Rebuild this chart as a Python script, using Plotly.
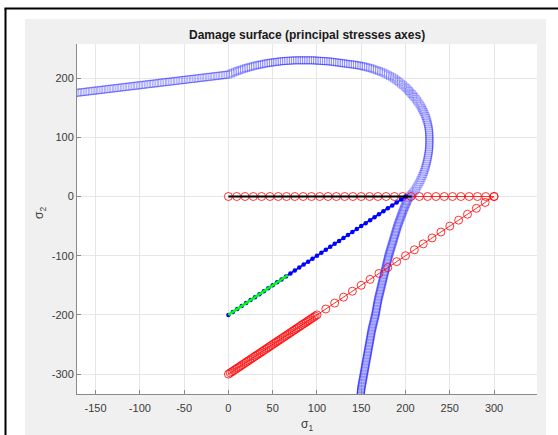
import plotly.graph_objects as go

# ---------------- data ----------------
# Damage surface (blue open squares): (sigma1, sigma2) pairs, three stretches of one curve
surf_left = [(-180, 173.6), (-177, 174.1), (-174, 174.6), (-171, 175.2), (-168, 175.7), (-165, 176.3),
             (-162, 176.8), (-159, 177.3), (-156, 177.9), (-153, 178.4), (-150, 179.0), (-147, 179.5),
             (-144, 180.0), (-141, 180.6), (-138, 181.1), (-135, 181.7), (-132, 182.2), (-129, 182.7),
             (-126, 183.3), (-123, 183.8), (-120, 184.4), (-117, 184.9), (-114, 185.4), (-111, 186.0),
             (-108, 186.5), (-105, 187.1), (-102, 187.6), (-99, 188.1), (-96, 188.7), (-93, 189.2),
             (-90, 189.8), (-87, 190.3), (-84, 190.8), (-81, 191.4), (-78, 191.9), (-75, 192.5),
             (-72, 193.0), (-69, 193.5), (-66, 194.1), (-63, 194.6), (-60, 195.2), (-57, 195.7),
             (-54, 196.2), (-51, 196.8), (-48, 197.3), (-45, 197.9), (-42, 198.4), (-39, 198.9),
             (-36, 199.5), (-33, 200.0), (-30, 200.6), (-27, 201.1), (-24, 201.6), (-21, 202.2),
             (-18, 202.7), (-15, 203.3), (-12, 203.8), (-9, 204.3), (-6, 204.9), (-3, 205.4)]
surf_arc = [(0, 206), (2.5, 207.5), (5, 209), (7.5, 210.5), (10, 212), (12.5, 213.3), (15, 214.5),
            (17.5, 215.8), (20, 217), (22.5, 218), (25, 219), (27.5, 220), (30, 221), (32.5, 221.8),
            (35, 222.5), (37.5, 223.3), (40, 224), (42.5, 224.8), (45, 225.5), (47.5, 226), (50, 226.5),
            (52.5, 227), (55, 227.5), (57.5, 228), (60, 228.5), (62.5, 228.8), (65, 229), (67.5, 229.3),
            (70, 229.5), (72.5, 229.8), (75, 230), (77.5, 230), (80, 230), (82.5, 230), (85, 230),
            (87.5, 230), (90, 230), (92.5, 230), (95, 230), (97.5, 229.8), (100, 229.5), (102.5, 229.3),
            (105, 229), (107.5, 228.8), (110, 228.5), (112.5, 228.3), (115, 228), (117.5, 227.5),
            (120, 227), (122.5, 226.5), (125, 226), (127.5, 225.5), (130, 225), (132.5, 224.5),
            (135, 224), (137.5, 223.5), (140, 223), (142.5, 222.5), (145, 222), (147.5, 221.3),
            (150, 220.5), (152.5, 219.8), (155, 219), (157.5, 218), (160, 217), (162.5, 215.8),
            (165, 214.5), (167.5, 213.3), (170, 212), (172.5, 210.5), (175, 209), (177.5, 207.3),
            (180, 205.5), (182.5, 203.5), (185, 201.5), (187, 199.5), (189, 197.5), (191, 195.3),
            (193, 193), (195, 190.5), (197, 188), (199, 185.5), (201, 183), (202.5, 180.5), (204, 178),
            (205.5, 175.5), (207, 173), (208.5, 170.5), (210, 168), (211.5, 165), (213, 162),
            (214.5, 158.8), (216, 155.5), (217.3, 152.3), (218.5, 149), (219.5, 146), (220.5, 143),
            (221.5, 139.5), (222.5, 136), (223.3, 132.5), (224, 129), (224.7, 125.5), (225.3, 122),
            (225.8, 118.5), (226.2, 115), (226.5, 111.5), (226.8, 108), (226.9, 104.5), (227, 101),
            (227, 97.5), (227, 94), (227, 90.5), (227, 87), (226.8, 83.5), (226.6, 80), (226.3, 76.5),
            (226, 73), (225.6, 69.5), (225.2, 66), (224.7, 62.5), (224.2, 59), (223.6, 55.5), (223, 52),
            (222.3, 48.5), (221.6, 45), (220.8, 41.5), (220, 38), (219, 34.5), (218, 31), (216.9, 27.5),
            (215.8, 24), (214.5, 20.5), (213.2, 17), (211.8, 13.5), (210.3, 10), (208.8, 7), (207.2, 4),
            (205.8, 2)]
surf_lower = [(204.5, 0), (203.5, -2.5), (202.6, -5), (201.9, -7.5), (201.2, -10), (200.5, -12.5),
              (199.8, -15), (199.1, -17.5), (198.4, -20), (197.7, -22.5), (197, -25), (196.4, -27.5),
              (195.8, -30), (195.2, -32.5), (194.6, -35), (194, -37.5), (193.4, -40), (192.8, -42.5),
              (192.2, -45), (191.6, -47.5), (191, -50), (190.5, -52.5), (190, -55), (189.5, -57.5),
              (189, -60), (188.5, -62.5), (188, -65), (187.5, -67.5), (187, -70), (186.5, -72.5),
              (186, -75), (185.5, -77.5), (185, -80), (184.5, -82.5), (184, -85), (183.5, -87.5),
              (183, -90), (182.5, -92.5), (182, -95), (181.5, -97.5), (181, -100), (180.6, -102.5),
              (180.2, -105), (179.8, -107.5), (179.4, -110), (179, -112.5), (178.6, -115),
              (178.2, -117.5), (177.8, -120), (177.4, -122.5), (177, -125), (176.6, -127.5),
              (176.2, -130), (175.8, -132.5), (175.4, -135), (175, -137.5), (174.6, -140),
              (174.2, -142.5), (173.8, -145), (173.4, -147.5), (173, -150), (172.6, -152.5),
              (172.2, -155), (171.8, -157.5), (171.4, -160), (171, -162.5), (170.6, -165),
              (170.2, -167.5), (169.8, -170), (169.4, -172.5), (169, -175), (168.7, -177.5),
              (168.4, -180), (168.1, -182.5), (167.8, -185), (167.5, -187.5), (167.2, -190),
              (166.9, -192.5), (166.6, -195), (166.3, -197.5), (166, -200), (165.6, -202.5),
              (165.2, -205), (164.8, -207.5), (164.4, -210), (164, -212.5), (163.6, -215),
              (163.2, -217.5), (162.8, -220), (162.4, -222.5), (162, -225), (161.7, -227.5),
              (161.4, -230), (161.1, -232.5), (160.8, -235), (160.5, -237.5), (160.2, -240),
              (159.9, -242.5), (159.6, -245), (159.3, -247.5), (159, -250), (158.7, -252.5),
              (158.4, -255), (158.1, -257.5), (157.8, -260), (157.5, -262.5), (157.2, -265),
              (156.9, -267.5), (156.6, -270), (156.3, -272.5), (156, -275), (155.7, -277.5),
              (155.4, -280), (155.1, -282.5), (154.8, -285), (154.5, -287.5), (154.2, -290),
              (153.9, -292.5), (153.6, -295), (153.3, -297.5), (153, -300), (152.7, -302.5),
              (152.4, -305), (152.1, -307.5), (151.8, -310), (151.5, -312.5), (151.2, -315),
              (150.9, -317.5), (150.6, -320), (150.3, -322.5), (150, -325), (149.85, -327.5),
              (149.7, -330), (149.55, -332.5), (149.4, -335), (149.25, -337.5), (149.1, -340)]

# Red path along sigma2 = 0 (open circles)
hpath_s1 = [0, 9.4, 18.8, 28.1, 37.5, 46.9, 56.3, 65.6, 75, 84.4, 93.8, 103.1, 112.5, 121.9,
            131.3, 140.6, 150, 159.4, 168.8, 178.1, 187.5, 196.9, 206.3, 215.6, 225, 234.4,
            243.8, 253.1, 262.5, 271.9, 281.3, 290.6, 300]
hpath_s2 = [0, 0, 0, 0, 0, 0, 0, 0, 0, 0, 0, 0, 0, 0, 0, 0, 0, 0, 0, 0, 0, 0, 0, 0, 0, 0,
            0, 0, 0, 0, 0, 0, 0]

# Red diagonal path from (0,-300) to (300,0) (open circles)
dpath_s1 = [0, 2, 4, 6, 8, 10, 12, 14, 16, 18, 20, 22, 24, 26, 28, 30, 32, 34, 36, 38, 40,
            42, 44, 46, 48, 50, 52, 54, 56, 58, 60, 62, 64, 66, 68, 70, 72, 74, 76, 78, 80,
            82, 84, 86, 88, 90, 92, 94, 96, 98, 100,
            110, 120, 130, 140, 150, 160, 170, 180, 190, 200, 210, 220, 230, 240, 250, 260,
            270, 280, 290, 300]
dpath_s2 = [-300, -298, -296, -294, -292, -290, -288, -286, -284, -282, -280, -278, -276,
            -274, -272, -270, -268, -266, -264, -262, -260, -258, -256, -254, -252, -250,
            -248, -246, -244, -242, -240, -238, -236, -234, -232, -230, -228, -226, -224,
            -222, -220, -218, -216, -214, -212, -210, -208, -206, -204, -202, -200,
            -190, -180, -170, -160, -150, -140, -130, -120, -110, -100, -90, -80, -70, -60,
            -50, -40, -30, -20, -10, 0]

# Blue dotted path from (0,-200) to the surface
bpath_s1 = [0, 5, 10, 15, 20, 25, 30, 35, 40, 45, 50, 55, 60, 65, 70, 75, 80, 85, 90, 95,
            100, 105, 110, 115, 120, 125, 130, 135, 140, 145, 150, 155, 160, 165, 170, 175,
            180, 185, 190, 195, 200]
bpath_s2 = [-200, -195, -190, -185, -180, -175, -170, -165, -160, -155, -150, -145, -140,
            -135, -130, -125, -120, -115, -110, -105, -100, -95, -90, -85, -80, -75, -70,
            -65, -60, -55, -50, -45, -40, -35, -30, -25, -20, -15, -10, -5, 0]

# Green elastic segment
gpath_s1 = [0, 67]
gpath_s2 = [-200, -133]

# Black segment along sigma2 = 0
kpath_s1 = [0, 207]
kpath_s2 = [0, 0]

# Axis ticks
x_ticks = [-150, -100, -50, 0, 50, 100, 150, 200, 250, 300]
x_ticklabels = ["-150", "-100", "-50", "0", "50", "100", "150", "200", "250", "300"]
y_ticks = [-300, -200, -100, 0, 100, 200]
y_ticklabels = ["-300", "-200", "-100", "0", "100", "200"]

title_text = "Damage surface (principal stresses axes)"

# ---------------- figure ----------------
surf = surf_left + surf_arc + surf_lower
surf_s1 = [p[0] for p in surf]
surf_s2 = [p[1] for p in surf]

fig = go.Figure()

fig.add_trace(go.Scatter(
    x=surf_s1, y=surf_s2, mode="markers",
    marker=dict(symbol="square-open", size=7, color="rgba(0,0,255,0.5)",
                line=dict(width=0.6)),
    showlegend=False))

fig.add_trace(go.Scatter(
    x=hpath_s1, y=hpath_s2, mode="lines+markers",
    line=dict(color="#ff0000", width=0.8),
    marker=dict(symbol="circle-open", size=8, color="rgba(255,0,0,0.8)", line=dict(width=1)),
    showlegend=False))

fig.add_trace(go.Scatter(
    x=dpath_s1, y=dpath_s2, mode="lines+markers",
    line=dict(color="#ff0000", width=0.8),
    marker=dict(symbol="circle-open", size=8, color="rgba(255,0,0,0.8)", line=dict(width=1)),
    showlegend=False))

fig.add_trace(go.Scatter(
    x=bpath_s1, y=bpath_s2, mode="lines+markers",
    line=dict(color="#0000ff", width=1.6),
    marker=dict(symbol="circle", size=4.5, color="#0000ff"),
    showlegend=False))

fig.add_trace(go.Scatter(
    x=gpath_s1, y=gpath_s2, mode="lines",
    line=dict(color="#00ff00", width=2.5),
    showlegend=False))

fig.add_trace(go.Scatter(
    x=kpath_s1, y=kpath_s2, mode="lines",
    line=dict(color="#000000", width=2),
    showlegend=False))

W, H = 558, 435
L, R, T, B = 77, 537, 44, 394
pw, ph = R - L, B - T


def px(xp):
    return (xp - L) / pw


def py(yp):
    return (B - yp) / ph


FONT = "Liberation Sans, Arial, sans-serif"
axis_common = dict(
    showgrid=True, gridcolor="#e6e6e6", gridwidth=1,
    zeroline=False, showline=True, linecolor="#8a8a8a", linewidth=1,
    ticks="inside", ticklen=4, tickcolor="#8a8a8a", tickwidth=1,
    tickfont=dict(family=FONT, size=11, color="#3a3a3a"),
    mirror=False,
)

fig.update_layout(
    width=W, height=H,
    margin=dict(l=L, r=W - R, t=T, b=H - B, pad=0),
    paper_bgcolor="#f0f0f0", plot_bgcolor="white",
    xaxis=dict(range=[-171, 348.5], tickvals=x_ticks, ticktext=x_ticklabels,
               ticklabelstandoff=4, **axis_common),
    yaxis=dict(range=[-333.6, 257.6], tickvals=y_ticks, ticktext=y_ticklabels, **axis_common),
    shapes=[
        # white surround outside the grey figure area
        dict(type="rect", xref="paper", yref="paper", x0=px(-2), x1=px(560), y0=py(19), y1=py(-2),
             fillcolor="white", line=dict(width=0), layer="below"),
        dict(type="rect", xref="paper", yref="paper", x0=px(-2), x1=px(25), y0=py(437), y1=py(-2),
             fillcolor="white", line=dict(width=0), layer="below"),
        dict(type="rect", xref="paper", yref="paper", x0=px(546), x1=px(560), y0=py(437), y1=py(-2),
             fillcolor="white", line=dict(width=0), layer="below"),
        # black window frame
        dict(type="line", xref="paper", yref="paper", x0=px(4.5), x1=px(560), y0=py(8.5), y1=py(8.5),
             line=dict(color="black", width=2)),
        dict(type="line", xref="paper", yref="paper", x0=px(5.5), x1=px(5.5), y0=py(437), y1=py(8.5),
             line=dict(color="black", width=2)),
    ],
    annotations=[
        dict(text="<b>" + title_text + "</b>", xref="paper", yref="paper", x=0.5, y=py(35),
             xanchor="center", yanchor="middle", showarrow=False,
             font=dict(family=FONT, size=12, color="#1a1a1a")),
        dict(text="σ<sub>1</sub>", xref="paper", yref="paper", x=0.5, y=py(425),
             xanchor="center", yanchor="middle", showarrow=False,
             font=dict(family=FONT, size=12, color="#3a3a3a")),
        dict(text="σ<sub>2</sub>", xref="paper", yref="paper", x=px(40), y=py(213),
             xanchor="center", yanchor="middle", showarrow=False, textangle=-90,
             font=dict(family=FONT, size=12, color="#3a3a3a")),
    ],
)

fig.write_html("out.html")
